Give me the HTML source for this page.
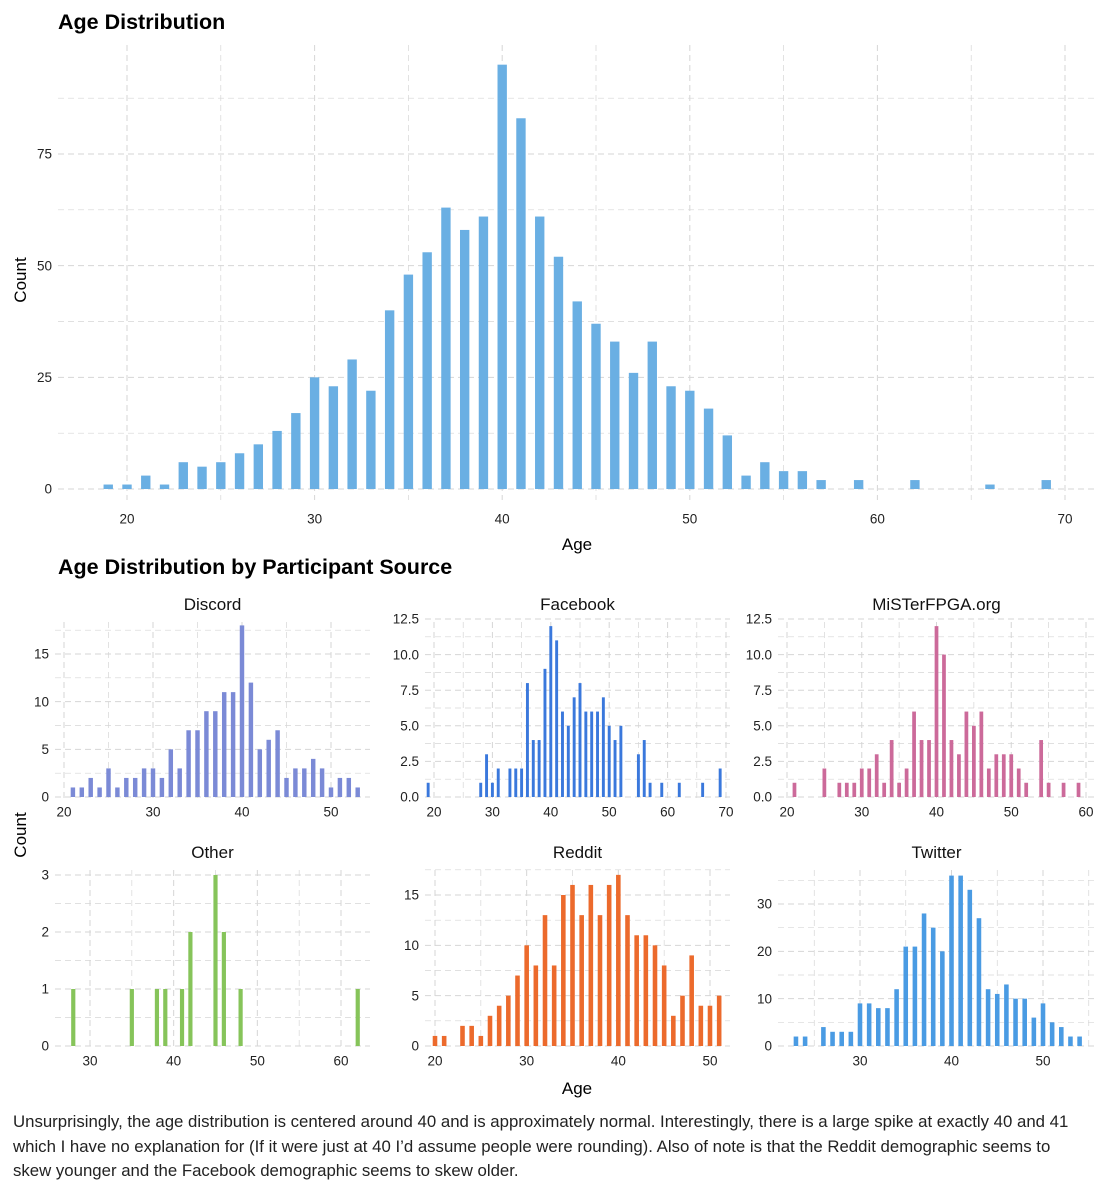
<!DOCTYPE html>
<html><head><meta charset="utf-8"><style>
body{margin:0;background:#fff;font-family:"Liberation Sans",Arial,sans-serif;}
svg text{font-family:"Liberation Sans",Arial,sans-serif;}
.cap{position:absolute;left:13px;top:1110px;width:1080px;font-size:16.8px;line-height:24.5px;color:#222;}
</style></head><body>
<svg id="chart" width="1108" height="1100" xmlns="http://www.w3.org/2000/svg" style="position:absolute;left:0;top:0">
<text x="58" y="29" font-size="21.5" font-weight="bold">Age Distribution</text>
<text transform="translate(26,280) rotate(-90)" text-anchor="middle" font-size="17">Count</text>
<text x="577" y="550" text-anchor="middle" font-size="17">Age</text>
<text x="58" y="574" font-size="21.5" font-weight="bold">Age Distribution by Participant Source</text>
<text transform="translate(26,835) rotate(-90)" text-anchor="middle" font-size="17">Count</text>
<text x="577" y="1094" text-anchor="middle" font-size="17">Age</text>
</svg>
<div class="cap">Unsurprisingly, the age distribution is centered around 40 and is approximately normal. Interestingly, there is a large spike at exactly 40 and 41 which I have no explanation for (If it were just at 40 I’d assume people were rounding). Also of note is that the Reddit demographic seems to skew younger and the Facebook demographic seems to skew older.</div>
<script>
const mainAges=[19,20,21,22,23,24,25,26,27,28,29,30,31,32,33,34,35,36,37,38,39,40,41,42,43,44,45,46,47,48,49,50,51,52,53,54,55,56,57,59,62,66,69];
const mainCounts=[1,1,3,1,6,5,6,8,10,13,17,25,23,29,22,40,48,53,63,58,61,95,83,61,52,42,37,33,26,33,23,22,18,12,3,6,4,4,2,2,2,1,2];
const mainXTicks=[20,30,40,50,60,70];
const mainYTicks=[0,25,50,75];

const discordAges=[21,22,23,24,25,26,27,28,29,30,31,32,33,34,35,36,37,38,39,40,41,42,43,44,45,46,47,48,49,50,51,52,53];
const discordCounts=[1,1,2,1,3,1,2,2,3,3,2,5,3,7,7,9,9,11,11,18,12,5,6,7,2,3,3,4,3,1,2,2,1];
const facebookAges=[19,28,29,30,31,33,34,35,36,37,38,39,40,41,42,43,44,45,46,47,48,49,50,51,52,55,56,57,59,62,66,69];
const facebookCounts=[1,1,3,1,2,2,2,2,8,4,4,9,12,11,6,5,7,8,6,6,6,7,5,4,5,3,4,1,1,1,1,2];
const misterAges=[21,25,27,28,29,30,31,32,33,34,35,36,37,38,39,40,41,42,43,44,45,46,47,48,49,50,51,52,54,55,57,59];
const misterCounts=[1,2,1,1,1,2,2,3,1,4,1,2,6,4,4,12,10,4,3,6,5,6,2,3,3,3,2,1,4,1,1,1];
const otherAges=[28,35,38,39,41,42,45,46,48,62];
const otherCounts=[1,1,1,1,1,2,3,2,1,1];
const redditAges=[20,21,23,24,25,26,27,28,29,30,31,32,33,34,35,36,37,38,39,40,41,42,43,44,45,46,47,48,49,50,51];
const redditCounts=[1,1,2,2,1,3,4,5,7,10,8,13,8,15,16,13,16,13,16,17,13,11,11,10,8,3,5,9,4,4,5];
const twitterAges=[23,24,26,27,28,29,30,31,32,33,34,35,36,37,38,39,40,41,42,43,44,45,46,47,48,49,50,51,52,53,54];
const twitterCounts=[2,2,4,3,3,3,9,9,8,8,12,21,21,28,25,20,36,36,33,27,12,11,13,10,10,6,9,5,4,2,2];

const NS="http://www.w3.org/2000/svg";
const svg=document.getElementById('chart');
function mk(tag,attrs,parent){const e=document.createElementNS(NS,tag);for(const k in attrs)e.setAttribute(k,attrs[k]);(parent||svg).appendChild(e);return e;}

function panel(name,p,ages,counts,color,xTicks,yTicks,yLabels,xMinor,yMinor,bw,fs,xoff){
  const g=mk('g',{});
  
  
  const X=v=>p.px0+(v-p.xa)*(p.px1-p.px0)/(p.xb-p.xa);
  const Y=v=>p.py0-(v)*(p.py0-p.py1)/(p.yb);
  const grid=(x1,y1,x2,y2,w)=>{const l=mk('line',{x1,y1,x2,y2,stroke:'#d6d6d6','stroke-width':w,'stroke-dasharray':'6,4'},g);};
  xMinor.forEach(v=>grid(X(v),p.top,X(v),p.bot,0.7));
  yMinor.forEach(v=>grid(p.left,Y(v),p.right,Y(v),0.7));
  xTicks.forEach(v=>grid(X(v),p.top,X(v),p.bot,1));
  yTicks.forEach(v=>grid(p.left,Y(v),p.right,Y(v),1));
  const step=(p.px1-p.px0)/(p.xb-p.xa);
  ages.forEach((a,i)=>{
    const r=mk('rect',{x:X(a)-step*bw/2,y:Y(counts[i]),width:step*bw,height:Y(0)-Y(counts[i]),fill:color},g);
    
    
  });
  xTicks.forEach(v=>{const t=mk('text',{x:X(v),y:p.bot+fs+(xoff||3),'text-anchor':'middle','font-size':fs,fill:'#222'},g);t.textContent=v;
    });
  yTicks.forEach((v,i)=>{const t=mk('text',{x:p.left-6,y:Y(v)+fs*0.35,'text-anchor':'end','font-size':fs,fill:'#222'},g);t.textContent=yLabels[i];
    });
  if(p.title){const t=mk('text',{x:(p.left+p.right)/2,y:p.top-12,'text-anchor':'middle','font-size':17,fill:'#111'},g);t.textContent=p.title;
    }
}

panel('main',{px0:127,px1:1065,xa:20,xb:70,py0:489,py1:154,yb:75,left:58,right:1095,top:45,bot:500},
  mainAges,mainCounts,'#6aafe3',mainXTicks,mainYTicks,mainYTicks.map(String),[25,35,45,55,65],[12.5,37.5,62.5,87.5],0.5,13.5,10);

const ty1=622,ty2=870;
panel('discord',{px0:64,px1:331,xa:20,xb:50,py0:797,py1:654,yb:15,left:55,right:370,top:ty1,bot:800,title:'Discord'},
  discordAges,discordCounts,'#7b8ad6',[20,30,40,50],[0,5,10,15],['0','5','10','15'],[25,35,45],[2.5,7.5,12.5,17.5],0.5,13.5);
panel('facebook',{px0:434,px1:726,xa:20,xb:70,py0:797,py1:619,yb:12.5,left:425,right:730,top:ty1,bot:800,title:'Facebook'},
  facebookAges,facebookCounts,'#3a78dc',[20,30,40,50,60,70],[0,2.5,5,7.5,10,12.5],['0.0','2.5','5.0','7.5','10.0','12.5'],[25,35,45,55,65],[1.25,3.75,6.25,8.75,11.25],0.5,13.5);
panel('mister',{px0:787,px1:1086,xa:20,xb:60,py0:797,py1:619,yb:12.5,left:778,right:1095,top:ty1,bot:800,title:'MiSTerFPGA.org'},
  misterAges,misterCounts,'#cc6a9a',[20,30,40,50,60],[0,2.5,5,7.5,10,12.5],['0.0','2.5','5.0','7.5','10.0','12.5'],[25,35,45,55],[1.25,3.75,6.25,8.75,11.25],0.5,13.5);
panel('other',{px0:90,px1:341,xa:30,xb:60,py0:1046,py1:875,yb:3,left:55,right:370,top:ty2,bot:1049,title:'Other'},
  otherAges,otherCounts,'#86c45a',[30,40,50,60],[0,1,2,3],['0','1','2','3'],[35,45,55],[0.5,1.5,2.5],0.5,13.5);
panel('reddit',{px0:435,px1:710,xa:20,xb:50,py0:1046,py1:895,yb:15,left:425,right:730,top:ty2,bot:1049,title:'Reddit'},
  redditAges,redditCounts,'#ec6a2c',[20,30,40,50],[0,5,10,15],['0','5','10','15'],[25,35,45],[2.5,7.5,12.5,17.5],0.5,13.5);
panel('twitter',{px0:860,px1:1043,xa:30,xb:50,py0:1046,py1:904,yb:30,left:778,right:1095,top:ty2,bot:1049,title:'Twitter'},
  twitterAges,twitterCounts,'#4a9be3',[30,40,50],[0,10,20,30],['0','10','20','30'],[25,35,45,55],[5,15,25,35],0.5,13.5);
</script>
</body></html>
